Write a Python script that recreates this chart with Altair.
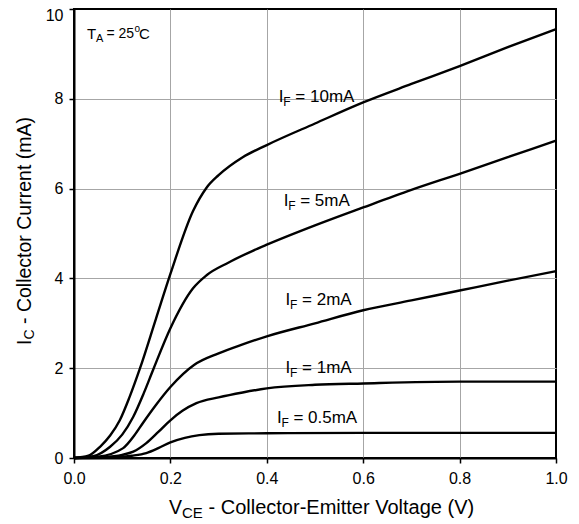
import altair as alt
import pandas as pd

# ---- data (VCE in V, IC in mA) ----
vce_10 = [0.0, 0.03, 0.054, 0.075, 0.095, 0.115, 0.137, 0.17, 0.2, 0.247, 0.275, 0.3, 0.35, 0.4, 0.5, 0.6, 0.7, 0.8, 0.9, 1.0]
ic_10 = [0.0, 0.05, 0.25, 0.5, 0.84, 1.35, 2.0, 3.1, 4.1, 5.5, 6.02, 6.3, 6.7, 6.97, 7.45, 7.92, 8.33, 8.73, 9.15, 9.55]

vce_5 = [0.0, 0.04, 0.075, 0.1, 0.123, 0.145, 0.164, 0.2, 0.247, 0.275, 0.32, 0.372, 0.4, 0.5, 0.6, 0.7, 0.8, 0.9, 1.0]
ic_5 = [0.0, 0.04, 0.25, 0.52, 0.92, 1.45, 1.96, 2.89, 3.78, 4.07, 4.35, 4.62, 4.75, 5.18, 5.58, 5.97, 6.33, 6.7, 7.07]

vce_2 = [0.0, 0.05, 0.102, 0.125, 0.143, 0.17, 0.2, 0.249, 0.3, 0.35, 0.4, 0.5, 0.6, 0.7, 0.8, 0.9, 1.0]
ic_2 = [0.0, 0.03, 0.22, 0.5, 0.78, 1.18, 1.58, 2.07, 2.33, 2.53, 2.71, 3.0, 3.29, 3.51, 3.73, 3.95, 4.16]

vce_1 = [0.0, 0.06, 0.1, 0.123, 0.15, 0.175, 0.2, 0.225, 0.254, 0.3, 0.35, 0.4, 0.5, 0.6, 0.8, 1.0]
ic_1 = [0.0, 0.02, 0.07, 0.14, 0.33, 0.58, 0.84, 1.05, 1.22, 1.35, 1.46, 1.55, 1.63, 1.66, 1.7, 1.7]

vce_05 = [0.0, 0.08, 0.12, 0.15, 0.175, 0.2, 0.23, 0.26, 0.3, 0.4, 0.6, 1.0]
ic_05 = [0.0, 0.01, 0.05, 0.11, 0.22, 0.35, 0.45, 0.51, 0.54, 0.55, 0.56, 0.56]

series_names = ["10mA", "5mA", "2mA", "1mA", "0.5mA"]
series_x = [vce_10, vce_5, vce_2, vce_1, vce_05]
series_y = [ic_10, ic_5, ic_2, ic_1, ic_05]

# curve labels: anchor (left of "I", vertical centre) in data units
label_text = ["= 10mA", "= 5mA", "= 2mA", "= 1mA", "= 0.5mA"]
label_x = [0.425, 0.435, 0.439, 0.439, 0.421]
label_y = [8.04, 5.73, 3.51, 2.0, 0.89]

x_ticks = [0.0, 0.2, 0.4, 0.6, 0.8, 1.0]
y_ticks = [0, 2, 4, 6, 8, 10]

FONT = "Liberation Sans"

rows = []
for name, xs, ys in zip(series_names, series_x, series_y):
    for xv, yv in zip(xs, ys):
        rows.append({"series": name, "vce": xv, "ic": yv})
df = pd.DataFrame(rows)

lab = pd.DataFrame({"x": label_x, "y": label_y, "rest": label_text})
ta = pd.DataFrame({"x": [0.027], "y": [9.44]})

xscale = alt.Scale(domain=[0, 1], nice=False, zero=False)
yscale = alt.Scale(domain=[0, 10], nice=False)

grid_x = alt.condition("datum.value <= 0 || datum.value >= 1", alt.value("transparent"), alt.value("#a6a6a6"))
grid_y = alt.condition("datum.value <= 0 || datum.value >= 10", alt.value("transparent"), alt.value("#a6a6a6"))
off_y = alt.condition("datum.value >= 10", alt.value(6), alt.value(0))

lines = alt.Chart(df).mark_line(color="black", strokeWidth=2.4, interpolate="monotone").encode(
    x=alt.X("vce:Q", scale=xscale,
            axis=alt.Axis(values=x_ticks, format=".1f", title=None, grid=True, gridColor=grid_x,
                          gridWidth=1, domainColor="black", domainWidth=2, tickColor="black",
                          tickWidth=1.5, tickSize=5, labelFont=FONT, labelFontSize=16,
                          labelColor="black", labelPadding=7, labelFlush=False)),
    y=alt.Y("ic:Q", scale=yscale,
            axis=alt.Axis(values=y_ticks, format="d", title=None, grid=True, gridColor=grid_y,
                          gridWidth=1, domainColor="black", domainWidth=2, tickColor="black",
                          tickWidth=1.5, tickSize=5, labelFont=FONT, labelFontSize=16,
                          labelColor="black", labelPadding=6, labelFlush=False,
                          labelOffset=off_y)),
    detail="series:N",
)

enc = dict(x=alt.X("x:Q", scale=xscale), y=alt.Y("y:Q", scale=yscale))
t_I = alt.Chart(lab).mark_text(text="I", font=FONT, fontSize=17, align="left", baseline="middle", color="black").encode(**enc)
t_F = alt.Chart(lab).mark_text(text="F", font=FONT, fontSize=12, align="left", baseline="middle", dx=4.5, dy=5, color="black").encode(**enc)
t_R = alt.Chart(lab).mark_text(font=FONT, fontSize=17, align="left", baseline="middle", dx=16.5, color="black").encode(text="rest:N", **enc)

ta_T = alt.Chart(ta).mark_text(text="T", font=FONT, fontSize=15, align="left", baseline="middle", color="black").encode(**enc)
ta_A = alt.Chart(ta).mark_text(text="A", font=FONT, fontSize=11, align="left", baseline="middle", dx=9, dy=5, color="black").encode(**enc)
ta_R = alt.Chart(ta).mark_text(text="= 25", font=FONT, fontSize=14, align="left", baseline="middle", dx=19.5, color="black").encode(**enc)
ta_o = alt.Chart(ta).mark_text(text="o", font=FONT, fontSize=10, align="left", baseline="middle", dx=47.5, dy=-5, color="black").encode(**enc)
ta_C = alt.Chart(ta).mark_text(text="C", font=FONT, fontSize=15, align="left", baseline="middle", dx=52, color="black").encode(**enc)

# axis titles with subscripts
one = pd.DataFrame({"a": [0]})
xt_y = 499
xt_x = 95
x_V = alt.Chart(one).mark_text(text="V", font=FONT, fontSize=19.5, align="left", baseline="middle", color="black").encode(x=alt.value(xt_x), y=alt.value(xt_y))
x_CE = alt.Chart(one).mark_text(text="CE", font=FONT, fontSize=15, align="left", baseline="middle", dx=13, dy=5, color="black").encode(x=alt.value(xt_x), y=alt.value(xt_y))
x_R = alt.Chart(one).mark_text(text="- Collector-Emitter Voltage (V)", font=FONT, fontSize=20, align="left", baseline="middle", dx=39.5, color="black").encode(x=alt.value(xt_x), y=alt.value(xt_y))

yt_x = -49
yt_y = 336
y_I = alt.Chart(one).mark_text(text="I", font=FONT, fontSize=19.5, angle=270, align="left", baseline="middle", color="black").encode(x=alt.value(yt_x), y=alt.value(yt_y))
y_C = alt.Chart(one).mark_text(text="C", font=FONT, fontSize=14, angle=270, align="left", baseline="middle", dx=5.5, dy=5, color="black").encode(x=alt.value(yt_x), y=alt.value(yt_y))
y_R = alt.Chart(one).mark_text(text="- Collector Current (mA)", font=FONT, fontSize=19.5, angle=270, align="left", baseline="middle", dx=21, color="black").encode(x=alt.value(yt_x), y=alt.value(yt_y))

chart = alt.layer(
    lines, t_I, t_F, t_R, ta_T, ta_A, ta_R, ta_o, ta_C,
    x_V, x_CE, x_R, y_I, y_C, y_R,
).properties(
    width=482, height=449,
    autosize=alt.AutoSizeParams(type="none"),
    padding={"left": 66, "top": 1, "right": 15, "bottom": 66},
    background="white",
).configure_view(stroke="black", strokeWidth=2)

chart.save("out.html", embed_options={"renderer": "svg", "actions": False})
